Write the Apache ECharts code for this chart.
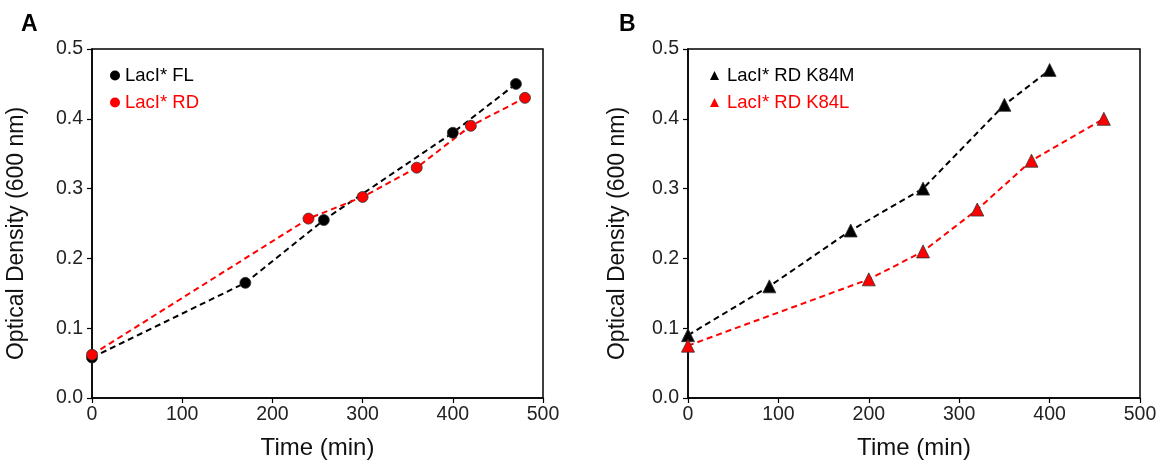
<!DOCTYPE html>
<html>
<head>
<meta charset="utf-8">
<script src="https://cdn.jsdelivr.net/npm/echarts@6/dist/echarts.min.js"></script>
<style>
html,body{margin:0;padding:0;background:#fff;}
#chart{width:1161px;height:465px;}
</style>
</head>
<body>
<div id="chart"></div>
<script>
// Panel A data
const timeFL = [0, 170, 257, 400, 470];
const odFL = [0.058, 0.165, 0.255, 0.38, 0.45];
const timeRD = [0, 240, 300, 360, 420, 480];
const odRD = [0.062, 0.257, 0.288, 0.33, 0.39, 0.43];
// Panel B data
const timeK84M = [0, 90, 180, 260, 350, 400];
const odK84M = [0.09, 0.16, 0.24, 0.30, 0.42, 0.47];
const timeK84L = [0, 200, 260, 320, 380, 460];
const odK84L = [0.075, 0.17, 0.21, 0.27, 0.34, 0.40];

const seriesNamesA = ['LacI* FL', 'LacI* RD'];
const seriesNamesB = ['LacI* RD K84M', 'LacI* RD K84L'];
const panelLabels = ['A', 'B'];
const xTitle = 'Time (min)';
const yTitle = 'Optical Density (600 nm)';

const FONT = '"Liberation Sans", Arial, sans-serif';
const RED = '#ff0000';
const BLACK = '#000000';

function pairs(xs, ys){ return xs.map((x,i)=>[x, ys[i]]); }

function xAxis(gi){
  return {
    gridIndex: gi, type: 'value', min: 0, max: 500, interval: 100,
    name: xTitle, nameLocation: 'middle', nameGap: 38,
    nameTextStyle: {fontFamily: FONT, fontSize: 24, color: '#111'},
    axisLine: {show: true, onZero: false, lineStyle: {color: '#000', width: 1.5}},
    axisTick: {show: true, inside: false, length: 5, lineStyle: {color: '#000', width: 1.2}},
    axisLabel: {fontFamily: FONT, fontSize: 19.5, color: '#222', margin: 7},
    splitLine: {show: false}
  };
}
function yAxis(gi, gap, shift){
  return {
    gridIndex: gi, type: 'value', min: 0, max: 0.5, interval: 0.1,
    name: yTitle, nameLocation: 'middle', nameGap: gap, nameRotate: 90,
    nameTextStyle: {fontFamily: FONT, fontSize: 23, color: '#111', padding: [0, shift, 0, 0]},
    axisLine: {show: true, onZero: false, lineStyle: {color: '#000', width: 1.5}},
    axisTick: {show: true, inside: false, length: 5, lineStyle: {color: '#000', width: 1.2}},
    axisLabel: {fontFamily: FONT, fontSize: 19.5, color: '#222', margin: 9,
      formatter: v => v.toFixed(1)},
    splitLine: {show: false}
  };
}
function lineSeries(name, gi, data, color, symbol, size){
  return {
    name: name, type: 'line', xAxisIndex: gi, yAxisIndex: gi,
    data: data, symbol: symbol, symbolSize: size, showSymbol: true,
    lineStyle: {color: color, width: 2, type: [6, 4]},
    itemStyle: {color: color, borderColor: '#333', borderWidth: 0.8},
    emphasis: {disabled: true}, animation: false, z: 3
  };
}

const chart = echarts.init(document.getElementById('chart'), null, {renderer: 'canvas'});
chart.setOption({
  animation: false,
  backgroundColor: '#fff',
  title: [
    {text: panelLabels[0], left: 16, top: 8, textStyle: {fontFamily: FONT, fontSize: 23, fontWeight: 'bold', color: '#000'}},
    {text: panelLabels[1], left: 614, top: 8, textStyle: {fontFamily: FONT, fontSize: 23, fontWeight: 'bold', color: '#000'}}
  ],
  grid: [
    {left: 92, top: 49, width: 451, height: 353, show: true, borderColor: '#000', borderWidth: 1.5, backgroundColor: 'transparent', containLabel: false},
    {left: 688, top: 49, width: 452, height: 353, show: true, borderColor: '#000', borderWidth: 1.5, backgroundColor: 'transparent', containLabel: false}
  ],
  xAxis: [xAxis(0), xAxis(1)],
  yAxis: [yAxis(0, 64, 20), yAxis(1, 59, 20)],
  legend: [
    {orient: 'vertical', left: 105, top: 61, itemGap: 8, itemWidth: 10, itemHeight: 10,
     itemStyle: {borderWidth: 0},
     data: [
       {name: seriesNamesA[0], icon: 'circle', textStyle: {color: BLACK}},
       {name: seriesNamesA[1], icon: 'circle', textStyle: {color: RED}}
     ],
     textStyle: {fontFamily: FONT, fontSize: 18.5}, selectedMode: false},
    {orient: 'vertical', left: 705, top: 61, itemGap: 8, itemWidth: 9, itemHeight: 9,
     itemStyle: {borderWidth: 0},
     data: [
       {name: seriesNamesB[0], icon: 'triangle', textStyle: {color: BLACK}},
       {name: seriesNamesB[1], icon: 'triangle', textStyle: {color: RED}}
     ],
     textStyle: {fontFamily: FONT, fontSize: 18.5, padding: [0, 0, 0, 3]}, selectedMode: false}
  ],
  series: [
    lineSeries(seriesNamesA[0], 0, pairs(timeFL, odFL), BLACK, 'circle', 11),
    lineSeries(seriesNamesA[1], 0, pairs(timeRD, odRD), RED, 'circle', 11),
    lineSeries(seriesNamesB[0], 1, pairs(timeK84M, odK84M), BLACK, 'triangle', 13),
    lineSeries(seriesNamesB[1], 1, pairs(timeK84L, odK84L), RED, 'triangle', 13)
  ]
});
</script>
</body>
</html>
